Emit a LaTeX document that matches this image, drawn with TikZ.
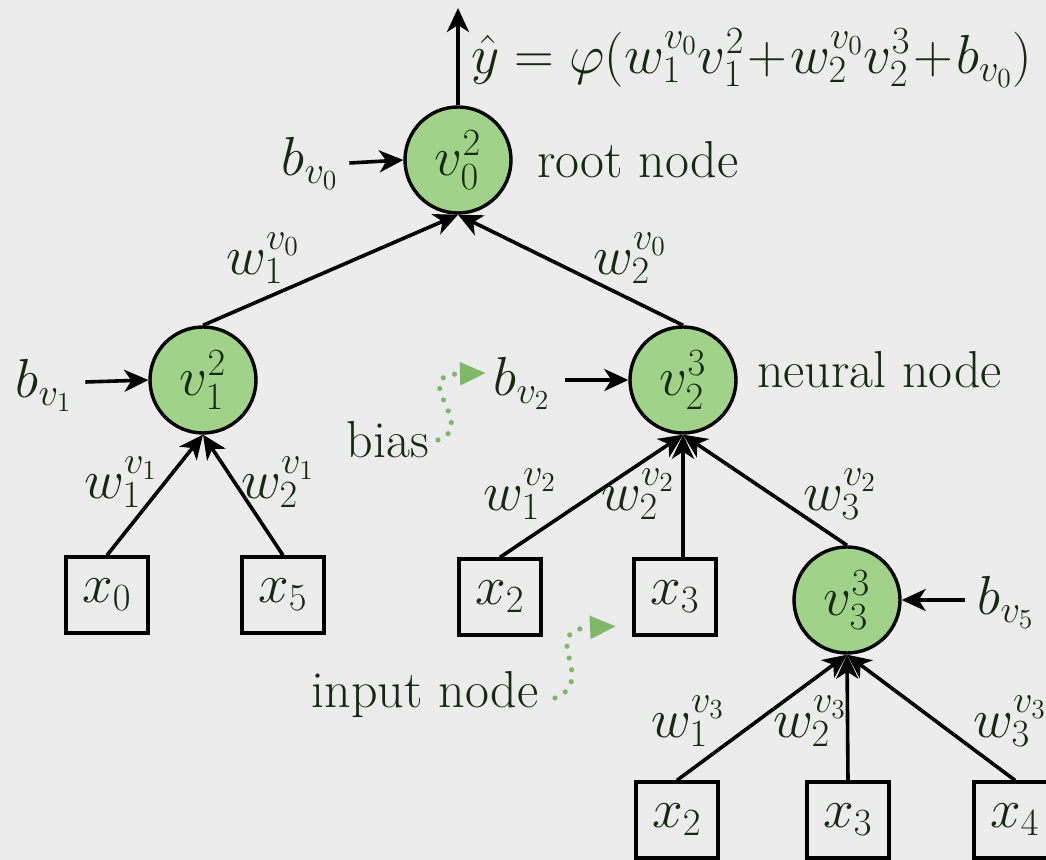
\RequirePackage{fix-cm}
\documentclass[tikz,border=0pt]{standalone}
\usetikzlibrary{arrows.meta}
\definecolor{bgc}{RGB}{236,236,236}
\definecolor{nodefill}{RGB}{160,210,138}
\definecolor{txt}{RGB}{22,42,16}
\definecolor{hint}{RGB}{128,184,106}
\tikzset{
  every node/.style={font=\fontsize{26}{31}\selectfont, text=txt},
  mth/.style={font=\fontsize{27.5}{33}\selectfont},
  neuron/.style={mth, circle, draw=black, line width=1.7pt, fill=nodefill, minimum size=53pt, inner sep=0pt},
  inbox/.style={mth, rectangle, draw=black, line width=1.7pt, minimum width=41pt, minimum height=38pt, inner sep=0pt},
  link/.style={line width=1.8pt, -{Stealth[length=12pt, width=11pt, inset=3.5pt]}},
  hintarrow/.style={hint, line width=2.6pt, dash pattern=on 0pt off 6pt, line cap=round, -{Triangle[length=13pt, width=11pt, line cap=butt, sep=2pt]}},
}
\begin{document}
\begin{tikzpicture}[x=0.5pt, y=-0.5pt]
  \fill[bgc] (0,0) rectangle (1046,860);
  \useasboundingbox (0,0) rectangle (1046,860);

  % neurons
  \node[neuron] (v0) at (458,160) {$v_0^2$};
  \node[neuron] (v1) at (203,380) {$v_1^2$};
  \node[neuron] (v2) at (683,380) {$v_2^3$};
  \node[neuron] (v3) at (847,600) {$v_3^3$};

  % inputs
  \node[inbox] (x0) at (107,595) {$x_0$};
  \node[inbox] (x5) at (283,595) {$x_5$};
  \node[inbox] (x2) at (500,597) {$x_2$};
  \node[inbox] (x3) at (675,597) {$x_3$};
  \node[inbox] (x2b) at (677,820) {$x_2$};
  \node[inbox] (x3b) at (848,820) {$x_3$};
  \node[inbox] (x4) at (1015,820) {$x_4$};

  % biases
  \node[mth] (b0) at (310,163) {$b_{v_0}$};
  \node[mth] (b1) at (44,385) {$b_{v_1}$};
  \node[mth] (b2) at (522,383) {$b_{v_2}$};
  \node[mth] (b5) at (1006,602) {$b_{v_5}$};
  \draw[link] (b0.east) ++(4,0) coordinate (b0e) -- (v0.west);
  \draw[link] (b1.east) ++(6,-3) coordinate (b1e) -- (v1.west);
  \draw[link] (b2.east) ++(8,-3) coordinate (b2e) -- (v2.west);
  \draw[link] (b5.west) ++(-6,-2) coordinate (b5w) -- (v3.east);

  % output
  \coordinate (out) at (458,8);
  \draw[link] (v0.north) -- (out);
  \node[mth, anchor=west] (eq) at (464,58) {$\hat{y}=\varphi(w_1^{v_0}v_1^2\!+\!w_2^{v_0}v_2^3\!+\!b_{v_0})$};

  % weighted edges
  \draw[link] (v1.north) -- (v0.south);
  \draw[link] (v2.north) -- (v0.south);
  \draw[link] (x0.north) -- (v1.south);
  \draw[link] (x5.north) -- (v1.south);
  \draw[link] (x2.north) -- (v2.south);
  \draw[link] (x3.north -| v2.south) -- (v2.south);
  \draw[link] (v3.north) -- (v2.south);
  \draw[link] (x2b.north) -- (v3.south);
  \draw[link] (x3b.north) -- (v3.south);
  \draw[link] (x4.north) -- (v3.south);

  % weight labels
  \node[mth] (w10) at (263,258) {$w_1^{v_0}$};
  \node[mth] (w20) at (630,258) {$w_2^{v_0}$};
  \node[mth] (w11) at (121,482) {$w_1^{v_1}$};
  \node[mth] (w21) at (278,482) {$w_2^{v_1}$};
  \node[mth] (w12) at (520,494) {$w_1^{v_2}$};
  \node[mth] (w22) at (638,494) {$w_2^{v_2}$};
  \node[mth] (w32) at (840,494) {$w_3^{v_2}$};
  \node[mth] (w13) at (688,721) {$w_1^{v_3}$};
  \node[mth] (w23) at (810,721) {$w_2^{v_3}$};
  \node[mth] (w33) at (1010,721) {$w_3^{v_3}$};

  % annotations
  \node[anchor=west] (root) at (530,160) {root node};
  \node[anchor=west] (neural) at (750,370) {neural node};
  \node (bias) at (388,440) {bias};
  \node (input) at (425,695) {input node};
  \coordinate (biastip) at (490,373);
  \coordinate (inputtip) at (620,626);
  \draw[hintarrow] (438,440) .. controls (480,425) and (405,375) .. (biastip);
  \draw[hintarrow] (555,698) .. controls (600,680) and (535,630) .. (inputtip);
\end{tikzpicture}
\end{document}
